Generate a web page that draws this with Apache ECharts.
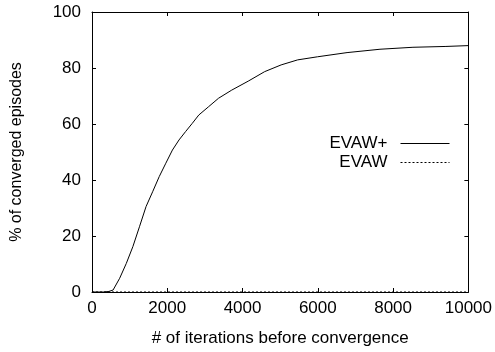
<!DOCTYPE html>
<html>
<head>
<meta charset="utf-8">
<script src="https://cdn.jsdelivr.net/npm/echarts@6/dist/echarts.min.js"></script>
<style>
  html, body { margin: 0; padding: 0; background: #fff; }
  #chart { width: 495px; height: 352px; }
</style>
</head>
<body>
<div id="chart"></div>
<script>
// values
const iterations = [0, 300, 450, 560, 735, 911, 1086, 1261, 1436, 1611, 1786, 1962, 2137, 2312, 2487, 2662, 2837, 3100, 3362, 3712, 4150, 4588, 5025, 5464, 5989, 6777, 7652, 8528, 9404, 10000];
const evawPlus   = [0, 0, 0.2, 0.7, 4.9, 10.2, 16.2, 23.3, 30.5, 35.8, 41.2, 46, 50.7, 54.3, 57.3, 60.2, 63.2, 66.2, 69.2, 72.1, 75.3, 78.7, 81.1, 82.9, 84, 85.5, 86.7, 87.4, 87.7, 88];
const evawX      = [0, 10000];
const evaw       = [0, 0];

const font = 'Liberation Sans, Arial, sans-serif';
const fs = 17;
const chart = echarts.init(document.getElementById('chart'));

const axisCommon = {
  axisLine: { show: true, onZero: false, lineStyle: { color: '#000', width: 1 } },
  axisTick: { show: true, inside: true, length: 4, lineStyle: { color: '#000' } },
  splitLine: { show: false }
};

chart.setOption({
  animation: false,
  grid: { left: 92, right: 22, top: 12, bottom: 60 },
  legend: {
    right: 40, top: 130, orient: 'vertical', align: 'right',
    itemWidth: 49, itemHeight: 14, itemGap: 2,
    itemStyle: { opacity: 0 },
    lineStyle: { width: 1 },
    textStyle: { fontFamily: font, fontSize: fs, color: '#000', padding: [0, 8, 0, 0] },
    data: ['EVAW+', 'EVAW']
  },
  xAxis: [
    Object.assign({}, axisCommon, {
      type: 'value', min: 0, max: 10000, interval: 2000,
      name: '# of iterations before convergence', nameLocation: 'middle', nameGap: 38,
      nameTextStyle: { fontFamily: font, fontSize: fs, color: '#000' },
      axisLabel: { fontFamily: font, fontSize: fs, color: '#000', margin: 8, formatter: v => String(v) }
    }),
    Object.assign({}, axisCommon, {
      type: 'value', min: 0, max: 10000, interval: 2000, position: 'top',
      axisLabel: { show: false }
    })
  ],
  yAxis: [
    Object.assign({}, axisCommon, {
      type: 'value', min: 0, max: 100, interval: 20,
      name: '% of converged episodes', nameLocation: 'middle', nameGap: 67,
      nameTextStyle: { fontFamily: font, fontSize: 16, color: '#000' },
      axisLabel: { fontFamily: font, fontSize: fs, color: '#000', margin: 11 }
    }),
    Object.assign({}, axisCommon, {
      type: 'value', min: 0, max: 100, interval: 20, position: 'right',
      axisLabel: { show: false }
    })
  ],
  series: [
    {
      name: 'EVAW+', type: 'line', showSymbol: false, symbol: 'none',
      lineStyle: { color: '#000', width: 1 }, itemStyle: { color: '#000' },
      data: iterations.map((x, i) => [x, evawPlus[i]])
    },
    {
      name: 'EVAW', type: 'line', showSymbol: false, symbol: 'none',
      lineStyle: { color: '#000', width: 1, type: [2, 2] }, itemStyle: { color: '#000' },
      data: evawX.map((x, i) => [x, evaw[i]])
    }
  ]
});
</script>
</body>
</html>
